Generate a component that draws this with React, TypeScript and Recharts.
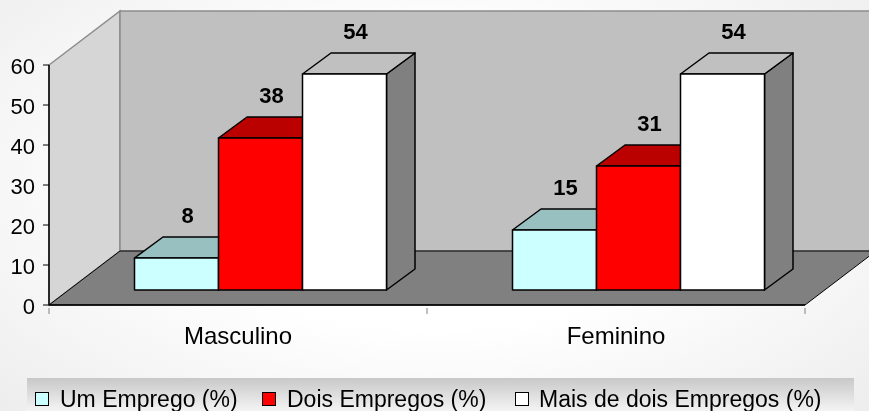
import { BarChart, Bar, XAxis, YAxis, Legend, LabelList } from 'recharts';

const categories = ['Masculino', 'Feminino'];
const umEmprego = [8, 15];
const doisEmpregos = [38, 31];
const maisDeDois = [54, 54];
const seriesNames = ['Um Emprego (%)', 'Dois Empregos (%)', 'Mais de dois Empregos (%)'];
const yTicks = [0, 10, 20, 30, 40, 50, 60];

const data = categories.map((name, i) => ({
  name,
  um: umEmprego[i],
  dois: doisEmpregos[i],
  mais: maisDeDois[i],
}));

// layout of the pseudo-3D plot
const W = 869;
const H = 411;
const PLOT_LEFT = 49;
const PLOT_TOP = 65;
const PLOT_RIGHT = 805;
const PLOT_BOTTOM = 305;
const WALL_DX = 71; // full depth of the floor
const WALL_DY = -54;
const BAR_SHIFT_X = 22; // bars sit partway into the floor
const BAR_SHIFT_Y = -15;
const BAR_DX = 28.5; // depth of a bar
const BAR_DY = -21;

// legend item placement (relative to the legend box)
const LEGEND_LEFT = 27;
const legendSwatchX = [8, 235, 488];
const legendTextX = [33, 260, 512];

const seriesColors = [
  { key: 'um', front: '#CCFFFF', top: '#99C0C0', side: '#80A0A0' },
  { key: 'dois', front: '#FF0000', top: '#BB0000', side: '#800000' },
  { key: 'mais', front: '#FFFFFF', top: '#C0C0C0', side: '#808080' },
];

const font = '"Liberation Sans", Arial, sans-serif';

function Walls() {
  const bx = PLOT_LEFT + WALL_DX;
  const by = PLOT_BOTTOM + WALL_DY;
  const ty = PLOT_TOP + WALL_DY;
  return (
    <g>
      {/* side wall */}
      <polygon
        points={`${PLOT_LEFT},${PLOT_TOP} ${bx},${ty} ${bx},${by} ${PLOT_LEFT},${PLOT_BOTTOM}`}
        fill="#D6D6D6"
        stroke="#8C8C8C"
        strokeWidth={1.5}
      />
      {/* back wall */}
      <rect x={bx} y={ty} width={W - bx + 10} height={by - ty} fill="#C0C0C0" stroke="#8C8C8C" strokeWidth={1.5} />
      {/* floor */}
      <polygon
        points={`${PLOT_LEFT},${PLOT_BOTTOM} ${bx},${by} ${PLOT_RIGHT + WALL_DX},${by} ${PLOT_RIGHT},${PLOT_BOTTOM}`}
        fill="#808080"
        stroke="#000"
        strokeWidth={1}
      />
    </g>
  );
}

const makeBox = (c: { front: string; top: string; side: string }) => (props: any) => {
  const { x, y, width, height } = props;
  if (width == null || height == null) return <g />;
  const x0 = x + BAR_SHIFT_X;
  const y0 = y + BAR_SHIFT_Y;
  const x1 = x0 + width;
  const y1 = y0 + height;
  return (
    <g stroke="#000" strokeWidth={1.5} strokeLinejoin="round">
      <polygon
        points={`${x1},${y0} ${x1 + BAR_DX},${y0 + BAR_DY} ${x1 + BAR_DX},${y1 + BAR_DY} ${x1},${y1}`}
        fill={c.side}
      />
      <polygon
        points={`${x0},${y0} ${x0 + BAR_DX},${y0 + BAR_DY} ${x1 + BAR_DX},${y0 + BAR_DY} ${x1},${y0}`}
        fill={c.top}
      />
      <rect x={x0} y={y0} width={width} height={height} fill={c.front} />
    </g>
  );
};

const ValueLabel = (props: any) => {
  const { x, y, width, value } = props;
  return (
    <text
      x={x + width / 2 + BAR_SHIFT_X + 11}
      y={y + BAR_SHIFT_Y - 35}
      textAnchor="middle"
      fontFamily={font}
      fontWeight="bold"
      fontSize={22}
      fill="#000"
    >
      {value}
    </text>
  );
};

const CategoryTick = (props: any) => {
  const { x, y, payload, index } = props;
  const half = payload && payload.offset ? payload.offset : (PLOT_RIGHT - PLOT_LEFT) / categories.length / 2;
  return (
    <g>
      <line x1={x - half} y1={y - 5} x2={x - half} y2={y + 1} stroke="#808080" />
      {index === categories.length - 1 && (
        <line x1={x + half} y1={y - 5} x2={x + half} y2={y + 1} stroke="#808080" />
      )}
      <text x={x} y={y + 31} textAnchor="middle" fontFamily={font} fontSize={24} fill="#000">
        {payload.value}
      </text>
    </g>
  );
};

const YTick = (props: any) => {
  const { x, y, payload } = props;
  return (
    <text x={x} y={y + 9} textAnchor="end" fontFamily={font} fontSize={22} fill="#000">
      {payload.value}
    </text>
  );
};

const LegendContent = () => (
  <div
    style={{
      position: 'relative',
      width: '100%',
      height: '100%',
      background: 'linear-gradient(to bottom, #C8C8C8, #F4F4F4)',
      fontFamily: font,
      fontSize: 23,
      lineHeight: '24px',
      color: '#000',
      whiteSpace: 'nowrap',
    }}
  >
    {seriesNames.map((name, i) => (
      <div key={name}>
        <span
          style={{
            position: 'absolute',
            left: legendSwatchX[i],
            top: 14,
            width: 12,
            height: 12,
            border: '1px solid #000',
            background: seriesColors[i].front,
          }}
        />
        <span style={{ position: 'absolute', left: legendTextX[i], top: 9 }}>{name}</span>
      </div>
    ))}
  </div>
);

export default function App() {
  return (
    <div
      style={{
        position: 'fixed',
        left: 0,
        top: 0,
        width: W,
        height: H,
        background: 'radial-gradient(ellipse at 50% 45%, #FFFFFF 45%, #EDEDED 100%)',
      }}
    >
      <BarChart
        width={W}
        height={H}
        data={data}
        margin={{ top: PLOT_TOP, right: W - PLOT_RIGHT, bottom: 66, left: 0 }}
        barCategoryGap="16.8%"
        barGap={0}
      >
        <Walls />
        <XAxis
          dataKey="name"
          height={H - PLOT_BOTTOM - 66}
          axisLine={{ stroke: '#000', strokeWidth: 1.5 }}
          tickLine={false}
          tick={<CategoryTick />}
          interval={0}
        />
        <YAxis
          width={PLOT_LEFT}
          domain={[0, 60]}
          ticks={yTicks}
          interval={0}
          axisLine={{ stroke: '#000', strokeWidth: 1.5 }}
          tickLine={{ stroke: '#000' }}
          tickSize={6}
          tickMargin={8}
          tick={<YTick />}
        />
        {seriesColors.map((c, i) => (
          <Bar
            key={c.key}
            dataKey={c.key}
            name={seriesNames[i]}
            fill={c.front}
            shape={makeBox(c)}
            isAnimationActive={false}
          >
            <LabelList dataKey={c.key} content={<ValueLabel />} />
          </Bar>
        ))}
        <Legend
          verticalAlign="middle"
          layout="horizontal"
          content={<LegendContent />}
          wrapperStyle={{ position: 'absolute', left: LEGEND_LEFT, top: 378, width: 827, height: 33 }}
        />
      </BarChart>
    </div>
  );
}
